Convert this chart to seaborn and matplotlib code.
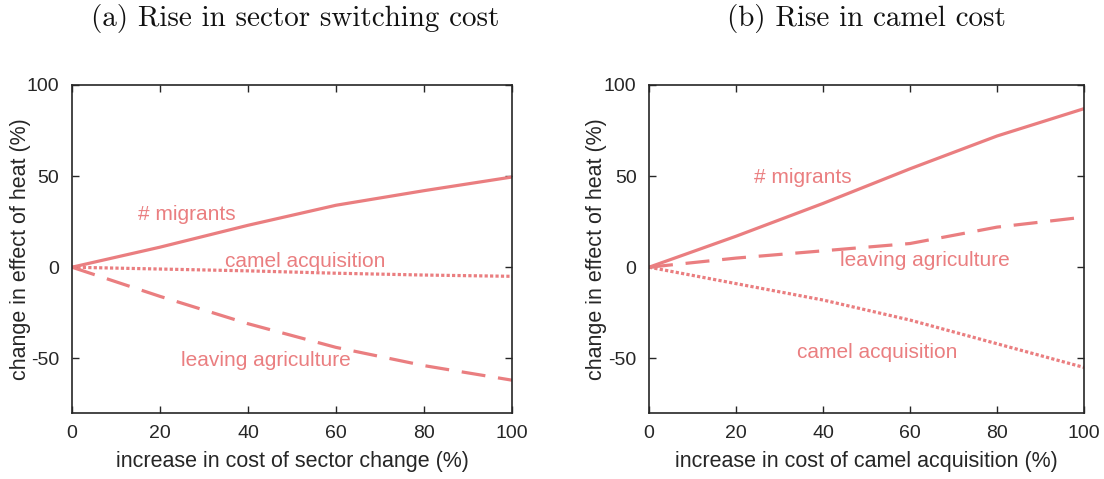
import matplotlib
matplotlib.use("Agg")
import matplotlib.pyplot as plt
import seaborn as sns
import pandas as pd

sns.set_theme(style="white")
plt.rcParams["font.family"] = ["Liberation Sans", "DejaVu Sans"]

# cost increase grid (%)
cost_pct = [0, 20, 40, 60, 80, 100]

# (a) rise in sector switching cost
a_migrants = [0, 11, 23, 34, 42, 49.5]
a_camel = [0, -1.0, -2.0, -3.3, -4.3, -5.0]
a_leaving = [0, -16, -31, -44, -54, -62]

# (b) rise in camel cost
b_migrants = [0, 17, 35, 54, 72, 87]
b_leaving = [0, 5, 9, 13, 22, 27.5]
b_camel = [0, -9, -18, -29, -42, -55]

titles = ["(a) Rise in sector switching cost", "(b) Rise in camel cost"]
xlabels = ["increase in cost of sector change (%)",
           "increase in cost of camel acquisition (%)"]
ylabel = "change in effect of heat (%)"
xticks = [0, 20, 40, 60, 80, 100]
yticks = [-50, 0, 50, 100]

color = "#EA7E80"
LW = 2.3

fig = plt.figure(figsize=(11.04, 4.79), dpi=100)
axes = [fig.add_axes([0.0652, 0.1378, 0.3986, 0.6848]),
        fig.add_axes([0.5879, 0.1378, 0.3940, 0.6848])]

panels = [
    {"migrants": a_migrants, "camel": a_camel, "leaving": a_leaving},
    {"migrants": b_migrants, "camel": b_camel, "leaving": b_leaving},
]
styles = {"migrants": "-", "camel": (0, (1.0, 0.7)), "leaving": (0, (7.5, 4.0))}

labels = [
    [("# migrants", 26, 29), ("camel acquisition", 53, 3.3), ("leaving agriculture", 44, -51)],
    [("# migrants", 35.4, 49), ("leaving agriculture", 63.4, 3.8), ("camel acquisition", 52.4, -47)],
]

for ax, data, labs, title, xl, fx, ylx in zip(axes, panels, labels, titles, xlabels,
                                              [0.2675, 0.785], [-0.093, -0.097]):
    for key in ["migrants", "camel", "leaving"]:
        df = pd.DataFrame({"x": cost_pct, "y": data[key]})
        sns.lineplot(data=df, x="x", y="y", ax=ax, color=color, lw=LW,
                     linestyle=styles[key])
    for txt, tx, ty in labs:
        ax.text(tx, ty, txt, color=color, fontsize=15, ha="center", va="center")
    ax.set_xlim(0, 100)
    ax.set_ylim(-80, 100)
    ax.set_xticks(xticks)
    ax.set_yticks(yticks)
    ax.set_yticklabels([str(v) for v in yticks])
    ax.set_xlabel(xl, fontsize=15.5, color="#262626", labelpad=6)
    ax.set_ylabel(ylabel, fontsize=15.5, color="#262626")
    ax.yaxis.set_label_coords(ylx, 0.5)
    ax.tick_params(direction="in", length=5, width=1, colors="#262626",
                   labelsize=14, top=True, right=True, pad=9,
                   bottom=True, left=True)
    for s in ax.spines.values():
        s.set_color("#262626")
        s.set_linewidth(1.2)
    fig.text(fx, 0.962, title, ha="center", va="center", fontsize=21,
             family=["cmr10", "DejaVu Serif"], color="#111111")

fig.savefig("out.png", dpi=100)
